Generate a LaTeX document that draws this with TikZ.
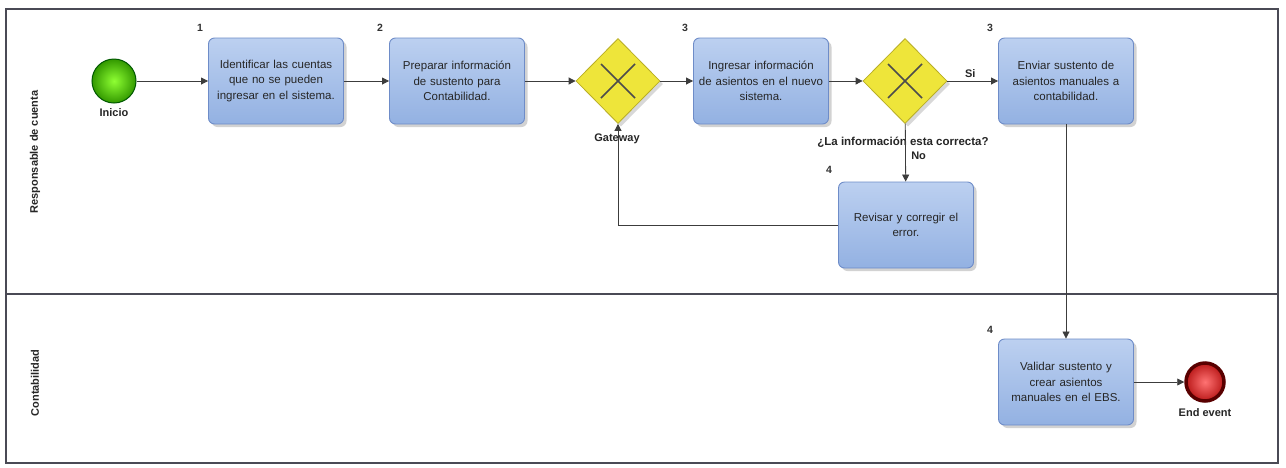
\documentclass[tikz,border=0pt]{standalone}
\usepackage{fontspec}
\setmainfont{Liberation Sans}
\usetikzlibrary{shapes.geometric,arrows.meta,shadows,calc}
\definecolor{taskedge}{HTML}{6E8CC8}
\definecolor{tasktop}{HTML}{BCD0F0}
\definecolor{taskbot}{HTML}{93B1E2}
\definecolor{gwfill}{HTML}{EEE53A}
\definecolor{gwedge}{HTML}{B9AE25}
\definecolor{framec}{HTML}{4A4A55}
\definecolor{flowc}{HTML}{3C3C3C}
\begin{document}
\begin{tikzpicture}[x=1pt,y=-1pt,
  task/.style={draw=taskedge, line width=0.9pt, rounded corners=6pt,
    top color=tasktop, bottom color=taskbot,
    minimum width=135pt, minimum height=86pt, text width=133pt,
    align=center, inner sep=0pt, text=black!85,
    font=\fontsize{11.5}{15.5}\selectfont,
    drop shadow={shadow xshift=3pt, shadow yshift=-3pt, fill=black!35, opacity=0.5}},
  gateway/.style={diamond, draw=gwedge, line width=0.8pt, fill=gwfill,
    minimum width=84pt, minimum height=85pt, inner sep=0pt,
    drop shadow={shadow xshift=3pt, shadow yshift=-3pt, fill=black!30, opacity=0.5}},
  cross/.style={draw=black!70, line width=1.6pt},
  startev/.style={circle, draw=green!35!black, line width=1pt,
    inner color=green!55!yellow!80, outer color=green!50!black!80!yellow,
    minimum size=44pt, inner sep=0pt},
  endev/.style={circle, draw=red!35!black, line width=3.5pt,
    inner color=red!55!white, outer color=red!70!black!90,
    minimum size=38pt, inner sep=0pt},
  lbl/.style={font=\fontsize{11}{13}\selectfont\bfseries, text=black!85},
  num/.style={font=\fontsize{10.5}{12}\selectfont\bfseries, text=black!80},
  lanelbl/.style={rotate=90, font=\fontsize{11}{13}\selectfont\bfseries, text=black!85},
  flow/.style={draw=flowc, line width=0.8pt, -{Triangle[length=7pt,width=7pt]}}]

\useasboundingbox (0,0) rectangle (1286,467);
\fill[white] (0,0) rectangle (1286,467);

% pool and lanes
\draw[framec, line width=1.3pt] (6,9) rectangle (1278,463);
\draw[framec, line width=1.3pt] (6,294) -- (1278,294);
\node[lanelbl] (laneA) at (35,152) {Responsable de cuenta};
\node[lanelbl] (laneB) at (35,383) {Contabilidad};

% events
\node[startev] (start) at (114,81) {};
\node[lbl] (startlbl) at (114,113) {Inicio};
\node[endev] (end) at (1205,382) {};
\node[lbl] (endlbl) at (1205,413) {End event};

% activities
\node[task] (t1) at (276,81) {Identificar las cuentas\\que no se pueden\\ingresar en el sistema.};
\node[task] (t2) at (457,81) {Preparar información\\de sustento para\\Contabilidad.};
\node[task] (t3) at (761,81) {Ingresar información\\de asientos en el nuevo\\sistema.};
\node[task] (t4) at (1066,81) {Enviar sustento de\\asientos manuales a\\contabilidad.};
\node[task] (t5) at (906,225) {Revisar y corregir el\\error.};
\node[task] (t6) at (1066,382) {Validar sustento y\\crear asientos\\manuales en el EBS.};

% step numbers
\node[num] (n1) at (200,28) {1};
\node[num] (n2) at (380,28) {2};
\node[num] (n3) at (685,28) {3};
\node[num] (n4) at (990,28) {3};
\node[num] (n5) at (829,170) {4};
\node[num] (n6) at (990,330) {4};

% gateways
\node[gateway] (g1) at (618,81) {};
\draw[cross] ($(g1)+(-17,-17)$) -- ($(g1)+(17,17)$);
\draw[cross] ($(g1)+(-17,17)$) -- ($(g1)+(17,-17)$);
\node[lbl] (g1lbl) at (617,139) {Gateway};

\node[gateway] (g2) at (905,81) {};
\draw[cross] ($(g2)+(-17,-17)$) -- ($(g2)+(17,17)$);
\draw[cross] ($(g2)+(-17,17)$) -- ($(g2)+(17,-17)$);
\node[lbl, font=\fontsize{11.5}{13}\selectfont\bfseries] (g2lbl) at (903,142) {¿La información esta correcta?};

% sequence flows
\draw[flow] (start) -- (t1);
\draw[flow] (t1) -- (t2);
\draw[flow] (t2) -- (g1);
\draw[flow] (g1) -- (t3);
\draw[flow] (t3) -- (g2);
\draw[flow] (g2) -- node[lbl, above, pos=0.45] {Si} (t4);
\draw[flow] (g2) -- node[lbl, right, pos=0.55, xshift=2pt] {No} (t5);
\draw[flow] (t5.west) -| (g1.south);
\draw[flow] (t4) -- (t6);
\draw[flow] (t6) -- (end);
\end{tikzpicture}
\end{document}
